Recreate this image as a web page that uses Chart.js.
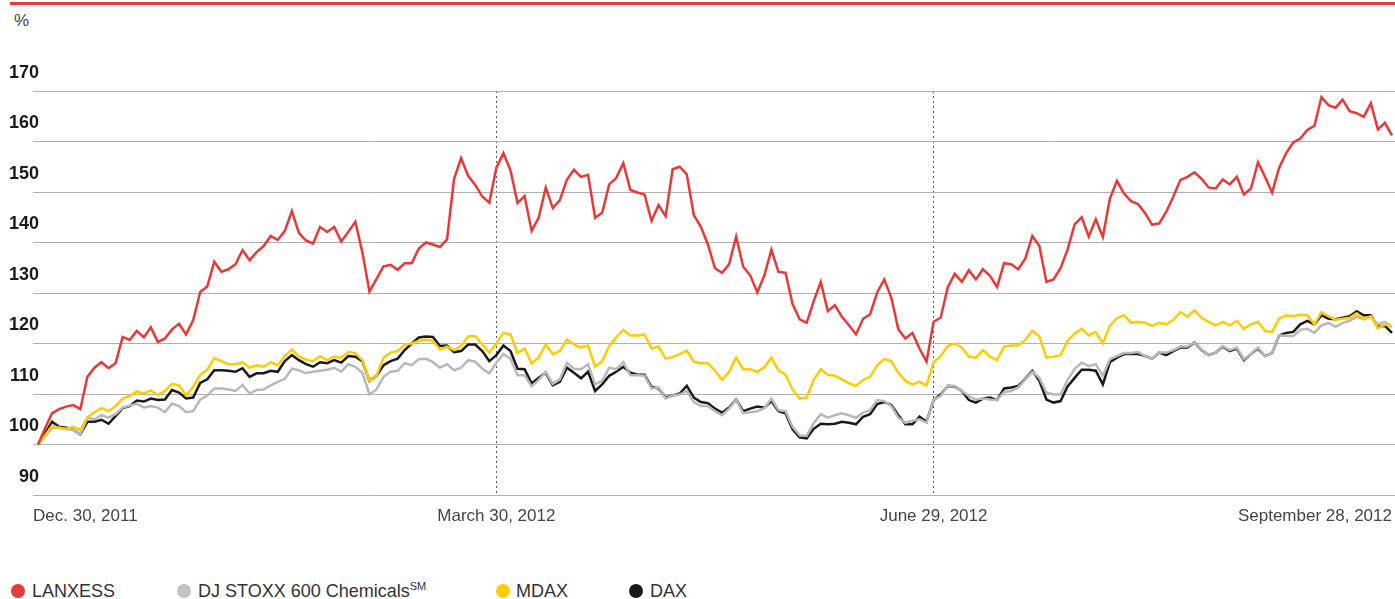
<!DOCTYPE html>
<html>
<head>
<meta charset="utf-8">
<script src="https://cdn.jsdelivr.net/npm/chart.js@4.4.0/dist/chart.umd.min.js"></script>
<style>
    body { margin: 0; background: #fff; font-family: "Liberation Sans", Arial, sans-serif; }
    #page { position: relative; width: 1395px; height: 599px; overflow: hidden; }
    .topRule { position: absolute; left: 10px; top: 2px; width: 1385px; height: 3px; background: #e63a3a; }
    .unit { position: absolute; left: 14px; top: 11px; font-size: 17px; line-height: 20px; color: #444; }
    #chartBox { position: absolute; left: 0; top: 0; }
    .item { position: absolute; top: 580px; height: 22px; line-height: 22px; font-size: 18px; color: #333; white-space: nowrap; }
    .item sup { font-size: 11px; line-height: 0; vertical-align: 7px; }
    .dot { position: absolute; top: 584px; width: 14px; height: 14px; border-radius: 50%; }
</style>
</head>
<body>
<div id="page">
    <div class="topRule"></div>
    <div class="unit">%</div>
    <canvas id="chartBox" width="1395" height="545"></canvas>

    <span class="dot" style="left:11px; background:#e63a3a;"></span>
    <span class="item" style="left:32px;">LANXESS</span>
    <span class="dot" style="left:177px; background:#c4c4c4;"></span>
    <span class="item" style="left:198px;">DJ STOXX 600 Chemicals<sup>SM</sup></span>
    <span class="dot" style="left:496px; background:#ffcc00;"></span>
    <span class="item" style="left:516px;">MDAX</span>
    <span class="dot" style="left:629px; background:#1a1a1a;"></span>
    <span class="item" style="left:650px;">DAX</span>
</div>

<script>
// trading days, index 0 = Dec. 30, 2011 (=100)
const xTickIndex = [0, 65, 127, 192];
const xTickLabels = ['Dec. 30, 2011', 'March 30, 2012', 'June 29, 2012', 'September 28, 2012'];
const yTicks = [90, 100, 110, 120, 130, 140, 150, 160, 170];

const lanxess = [
    100.0, 103.2, 106.2, 107.0, 107.5, 107.8, 107.0, 113.4, 115.2, 116.3,
    115.1, 116.1, 121.3, 120.7, 122.5, 121.2, 123.2, 120.3, 121.0, 122.8,
    123.9, 121.8, 124.6, 130.2, 131.3, 136.2, 134.2, 134.7, 135.7, 138.5,
    136.5, 138.1, 139.3, 141.3, 140.5, 142.3, 146.2, 141.9, 140.4, 139.8,
    143.1, 142.1, 143.1, 140.2, 142.1, 144.1, 138.0, 130.3, 132.8, 135.3,
    135.6, 134.6, 135.9, 135.9, 138.8, 140.0, 139.6, 139.1, 140.6, 152.6,
    156.7, 153.2, 151.4, 149.1, 147.9, 154.8, 157.7, 154.3, 147.8, 149.2,
    142.3, 144.9, 150.9, 146.8, 148.4, 152.4, 154.4, 153.0, 153.4, 144.9,
    145.9, 151.5, 152.8, 155.7, 150.4, 149.9, 149.5, 144.3, 147.4, 145.2,
    154.5, 155.0, 153.5, 145.4, 143.1, 139.6, 134.9, 134.0, 135.7, 141.2,
    135.2, 133.5, 130.1, 133.5, 138.6, 134.2, 134.0, 127.8, 124.8, 124.1,
    128.4, 132.2, 126.4, 127.6, 125.3, 123.6, 121.8, 124.9, 125.8, 130.1,
    132.7, 129.1, 122.8, 121.0, 122.1, 119.0, 116.4, 124.3, 125.1, 131.1,
    133.8, 132.2, 134.5, 132.7, 134.7, 133.4, 131.2, 135.9, 135.7, 134.7,
    136.8, 141.3, 139.3, 132.2, 132.7, 134.9, 138.6, 143.6, 145.0, 141.2,
    144.6, 141.1, 148.7, 152.2, 149.7, 148.2, 147.6, 145.8, 143.5, 143.8,
    146.1, 149.1, 152.4, 153.0, 153.9, 152.6, 150.9, 150.7, 152.5, 151.5,
    153.0, 149.5, 150.7, 155.9, 153.0, 149.9, 154.8, 157.7, 159.8, 160.6,
    162.3, 163.1, 168.8, 167.2, 166.7, 168.3, 166.0, 165.6, 164.9, 167.6,
    162.4, 163.7, 161.2
];

const djStoxxChem = [
    100.0, 101.6, 103.3, 103.3, 103.0, 102.9, 102.0, 105.3, 105.0, 105.8,
    105.3, 106.0, 107.3, 107.7, 108.1, 107.3, 107.6, 107.3, 106.4, 108.1,
    107.6, 106.4, 106.6, 108.9, 109.7, 111.1, 111.1, 110.9, 110.6, 111.8,
    110.1, 110.8, 110.9, 111.7, 112.4, 113.0, 115.0, 114.7, 114.1, 114.4,
    114.6, 114.8, 115.2, 114.4, 115.9, 115.4, 114.2, 109.9, 110.9, 113.4,
    114.4, 114.6, 116.1, 115.7, 116.9, 117.0, 116.3, 115.2, 115.9, 114.7,
    115.2, 116.7, 116.4, 115.0, 114.1, 116.2, 117.9, 117.0, 113.7, 113.7,
    111.5, 112.8, 114.4, 112.0, 112.9, 116.2, 115.0, 114.9, 115.9, 111.9,
    112.6, 115.2, 114.9, 116.3, 113.7, 113.7, 113.6, 111.1, 111.3, 109.1,
    109.7, 109.9, 110.6, 108.4, 107.6, 107.6, 106.6, 105.8, 107.1, 108.8,
    106.2, 106.4, 106.6, 107.2, 109.1, 106.8, 106.6, 103.5, 101.8, 101.7,
    104.2, 106.0, 105.3, 105.8, 106.2, 105.8, 105.3, 106.3, 106.8, 108.8,
    108.6, 107.6, 105.3, 104.3, 104.7, 105.0, 104.3, 108.9, 109.6, 111.7,
    111.6, 110.6, 109.6, 108.9, 109.1, 108.9, 108.8, 110.4, 110.6, 111.3,
    112.9, 114.4, 113.2, 110.3, 109.9, 109.9, 112.8, 115.0, 116.2, 115.5,
    115.9, 113.6, 116.9, 117.5, 118.1, 118.1, 118.3, 117.5, 117.0, 118.2,
    118.2, 118.7, 119.4, 119.4, 120.2, 118.8, 117.7, 118.2, 119.5, 118.7,
    119.2, 116.9, 117.9, 119.2, 117.5, 118.1, 121.6, 121.5, 121.5, 122.7,
    122.9, 122.1, 123.6, 124.1, 123.3, 124.1, 124.5, 125.3, 124.8, 125.3,
    123.8, 124.3, 123.3
];

const mdax = [
    100.0, 101.8, 103.7, 103.3, 103.1, 103.5, 102.9, 105.4, 106.4, 107.2,
    106.6, 107.6, 109.1, 109.6, 110.5, 110.1, 110.7, 109.8, 110.6, 112.0,
    111.7, 109.7, 111.4, 113.8, 114.8, 117.1, 116.5, 115.9, 115.9, 116.3,
    115.2, 115.7, 115.4, 116.3, 115.7, 117.5, 118.8, 117.4, 116.8, 116.5,
    117.5, 116.7, 117.4, 117.2, 118.3, 118.1, 116.7, 112.6, 113.6, 117.2,
    118.2, 118.5, 119.8, 120.0, 120.5, 120.8, 120.5, 118.8, 119.4, 118.7,
    119.5, 121.4, 121.5, 119.8, 118.2, 120.0, 122.1, 121.8, 118.1, 119.0,
    116.1, 117.2, 119.8, 117.9, 118.5, 120.8, 119.8, 119.2, 119.6, 115.4,
    116.5, 119.5, 121.2, 122.7, 121.6, 121.6, 121.8, 119.0, 119.4, 117.0,
    117.3, 117.9, 118.6, 116.4, 116.1, 116.1, 114.6, 112.8, 114.4, 117.2,
    114.9, 114.9, 114.4, 115.3, 117.2, 114.7, 113.9, 110.9, 109.1, 109.3,
    112.8, 114.9, 113.8, 113.6, 112.9, 112.1, 111.6, 112.8, 113.4, 115.7,
    116.9, 116.5, 114.2, 112.6, 111.9, 112.4, 111.7, 116.3, 117.5, 119.5,
    120.0, 119.2, 117.4, 117.2, 118.7, 117.4, 116.7, 119.4, 119.6, 119.6,
    120.7, 122.5, 121.4, 117.2, 117.4, 117.7, 120.5, 122.0, 122.9, 121.6,
    122.3, 120.0, 123.5, 125.0, 125.6, 124.1, 124.3, 124.1, 123.5, 124.1,
    123.8, 124.7, 126.2, 125.3, 126.6, 125.1, 124.3, 123.6, 124.3, 123.6,
    124.5, 122.9, 123.8, 124.3, 122.5, 122.3, 124.9, 125.6, 125.4, 125.7,
    125.6, 123.8, 126.2, 125.4, 124.7, 124.9, 125.1, 126.0, 124.8, 125.4,
    123.0, 123.8, 123.3
];

const dax = [
    100.0, 102.2, 104.5, 103.5, 103.3, 102.9, 102.0, 104.5, 104.5, 104.9,
    104.1, 105.6, 107.2, 107.6, 108.7, 108.5, 109.1, 108.8, 108.9, 110.8,
    110.3, 109.1, 109.3, 112.2, 112.9, 114.7, 114.7, 114.6, 114.4, 115.1,
    113.4, 114.1, 114.1, 114.6, 114.4, 116.5, 117.7, 116.7, 115.9, 115.4,
    116.3, 116.1, 116.7, 116.2, 117.5, 117.4, 116.5, 112.6, 113.6, 115.7,
    116.5, 117.0, 118.7, 120.0, 121.2, 121.4, 121.3, 119.5, 119.6, 118.3,
    118.5, 119.8, 119.8, 118.5, 116.5, 117.7, 119.6, 118.5, 115.0, 114.9,
    112.1, 113.2, 114.2, 111.7, 112.4, 115.2, 114.2, 113.1, 114.4, 110.6,
    111.9, 113.6, 114.4, 115.4, 114.2, 113.8, 113.8, 111.4, 111.1, 109.3,
    109.7, 110.1, 111.6, 109.3, 108.4, 108.2, 107.1, 106.3, 107.3, 108.9,
    106.6, 107.1, 107.5, 107.3, 108.6, 106.6, 106.2, 103.0, 101.4, 101.2,
    103.1, 104.1, 104.0, 104.1, 104.5, 104.3, 104.0, 105.5, 106.0, 108.0,
    108.4, 107.8, 105.8, 104.0, 104.0, 105.5, 104.5, 108.8, 109.9, 111.6,
    111.5, 110.6, 108.8, 108.3, 109.1, 109.3, 108.8, 111.1, 111.3, 111.6,
    113.0, 114.6, 112.6, 108.9, 108.3, 108.6, 111.5, 113.2, 114.8, 114.8,
    114.6, 111.9, 116.3, 117.2, 117.9, 117.9, 117.9, 117.5, 117.0, 118.2,
    117.7, 118.5, 119.2, 119.2, 120.2, 118.7, 117.7, 118.2, 119.4, 118.5,
    119.0, 116.7, 117.9, 119.0, 117.5, 118.1, 121.6, 122.1, 122.3, 123.8,
    124.5, 123.8, 125.6, 124.9, 124.8, 125.1, 125.4, 126.4, 125.6, 125.6,
    123.3, 123.5, 122.1
];

function points(arr) {
    return arr.map((v, i) => ({ x: i, y: v }));
}

function series(label, arr, color, order) {
    return {
        label: label,
        data: points(arr),
        borderColor: color,
        backgroundColor: color,
        borderWidth: 2.5,
        pointRadius: 0,
        tension: 0,
        order: order
    };
}

const ctx = document.getElementById('chartBox').getContext('2d');

// y labels sit above their grid line, right edge at x=39 (past the plot's left edge)
const yFont = { family: '"Liberation Sans", Arial, sans-serif', size: 18, weight: 'bold' };
ctx.font = 'bold 18px "Liberation Sans", Arial, sans-serif';
const yWidest = Math.max(...yTicks.map(v => ctx.measureText(String(v)).width));

new Chart(ctx, {
    type: 'line',
    data: {
        datasets: [
            series('LANXESS', lanxess, '#e63a3a', 0),
            series('MDAX', mdax, '#ffcc00', 1),
            series('DJ STOXX 600 Chemicals', djStoxxChem, '#b8b8b8', 2),
            series('DAX', dax, '#1a1a1a', 3)
        ]
    },
    options: {
        responsive: false,
        animation: false,
        layout: { padding: { top: 91, left: 0, right: 0, bottom: 0 } },
        plugins: {
            legend: { display: false },
            tooltip: { enabled: false }
        },
        scales: {
            x: {
                type: 'linear',
                min: -0.71,
                max: 192.43,
                afterFit: s => { s.height = 50; },
                afterBuildTicks: s => {
                    s.ticks = xTickIndex.map((v, i) => ({ value: i === 0 ? s.min : v }));
                },
                ticks: {
                    autoSkip: false,
                    maxRotation: 0,
                    align: 'inner',
                    padding: 0,
                    color: '#444',
                    // tall line box pushes the labels down without side padding
                    font: { family: '"Liberation Sans", Arial, sans-serif', size: 17, lineHeight: '42px' },
                    callback: (v, i) => xTickLabels[i]
                },
                grid: {
                    drawTicks: false,
                    lineWidth: 1,
                    color: c => (c.index === 1 || c.index === 2) ? '#555' : 'rgba(0,0,0,0)'
                },
                border: { display: false, dash: [2, 3] }
            },
            y: {
                min: 90,
                max: 170,
                afterFit: s => { s.width = 33; },
                afterBuildTicks: s => {
                    s.ticks = yTicks.map(v => ({ value: v }));
                },
                ticks: {
                    mirror: true,
                    crossAlign: 'far',
                    padding: 6 - yWidest,
                    labelOffset: -18,
                    color: '#1a1a1a',
                    font: yFont
                },
                grid: {
                    drawTicks: false,
                    lineWidth: 1,
                    color: '#b0b0b0'
                },
                border: { display: false }
            }
        }
    }
});
</script>
</body>
</html>
